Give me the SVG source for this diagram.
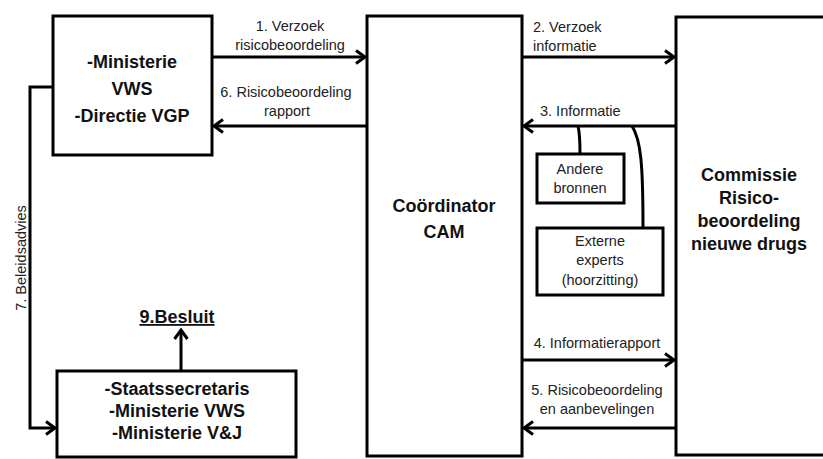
<svg xmlns="http://www.w3.org/2000/svg" width="823" height="459" viewBox="0 0 823 459">
<defs>
<marker id="arr" markerUnits="userSpaceOnUse" markerWidth="14" markerHeight="16" viewBox="0 0 14 16" refX="11" refY="8" orient="auto">
<path d="M2,1.5 L11,8 L2,14.5" fill="none" stroke="#000" stroke-width="3"/>
</marker>
<style>
.box{fill:#fff;stroke:#000;stroke-width:3}
.sbox{fill:#fff;stroke:#000;stroke-width:3}
.ln{fill:none;stroke:#000;stroke-width:3}
.big{font-family:"Liberation Sans",Arial,sans-serif;font-weight:bold;font-size:18px;fill:#111;text-anchor:middle}
.lbl{font-family:"Liberation Sans",Arial,sans-serif;font-size:14.5px;fill:#222}
.mid{text-anchor:middle}
</style>
</defs>
<rect width="823" height="459" fill="#fff"/>
<g id="connectors">
<path class="ln" d="M212,57 L365,57" marker-end="url(#arr)"/>
<path class="ln" d="M367,126 L214,126" marker-end="url(#arr)"/>
<path class="ln" d="M522,57 L674,57" marker-end="url(#arr)"/>
<path class="ln" d="M676,126 L524,126" marker-end="url(#arr)"/>
<path class="ln" d="M522,360 L674,360" marker-end="url(#arr)"/>
<path class="ln" d="M676,428 L524,428" marker-end="url(#arr)"/>
<path class="ln" d="M53,87 L30,87 L30,428 L55,428" marker-end="url(#arr)"/>
<path class="ln" d="M181,371 L181,330" marker-end="url(#arr)"/>
<path class="ln" d="M578,126 C580,134 580,140 580,154"/>
<path class="ln" d="M632,126 C641,140 643,165 643,228"/>
<text class="lbl mid" x="290" y="31">1. Verzoek</text>
<text class="lbl mid" x="290" y="50">risicobeoordeling</text>
<text class="lbl mid" x="286" y="97">6. Risicobeoordeling</text>
<text class="lbl mid" x="287" y="116">rapport</text>
<text class="lbl" x="533" y="32">2. Verzoek</text>
<text class="lbl" x="533" y="51">informatie</text>
<text class="lbl" x="540" y="116">3. Informatie</text>
<text class="lbl mid" x="597" y="348">4. Informatierapport</text>
<text class="lbl mid" x="597" y="395">5. Risicobeoordeling</text>
<text class="lbl mid" x="597" y="414">en aanbevelingen</text>
<text class="lbl mid" transform="translate(26,258) rotate(-90)">7. Beleidsadvies</text>
<text class="big" x="177" y="323" font-size="17" text-decoration="underline">9.Besluit</text>
</g>
<g id="ministerie">
<rect class="box" x="53" y="16" width="159" height="139"/>
<text class="big" x="132" y="68">-Ministerie</text>
<text class="big" x="132" y="95">VWS</text>
<text class="big" x="132" y="122">-Directie VGP</text>
</g>
<g id="coordinator">
<rect class="box" x="367" y="16" width="155" height="440"/>
<text class="big" x="444" y="212">Coördinator</text>
<text class="big" x="444" y="238">CAM</text>
</g>
<g id="commissie">
<rect class="box" x="676" y="17" width="160" height="438"/>
<text class="big" x="749" y="181">Commissie</text>
<text class="big" x="749" y="204">Risico-</text>
<text class="big" x="749" y="227">beoordeling</text>
<text class="big" x="749" y="250">nieuwe drugs</text>
</g>
<g id="andere">
<rect class="sbox" x="537" y="154" width="87" height="49"/>
<text class="lbl mid" x="580" y="174">Andere</text>
<text class="lbl mid" x="580" y="193">bronnen</text>
</g>
<g id="externe">
<rect class="sbox" x="537" y="228" width="126" height="67"/>
<text class="lbl mid" x="600" y="246">Externe</text>
<text class="lbl mid" x="600" y="265">experts</text>
<text class="lbl mid" x="600" y="285">(hoorzitting)</text>
</g>
<g id="staatssecretaris">
<rect class="box" x="57" y="371" width="239" height="86"/>
<text class="big" x="177" y="395" font-size="17">-Staatssecretaris</text>
<text class="big" x="177" y="417" font-size="17">-Ministerie VWS</text>
<text class="big" x="177" y="439" font-size="17">-Ministerie V&amp;J</text>
</g>
</svg>
